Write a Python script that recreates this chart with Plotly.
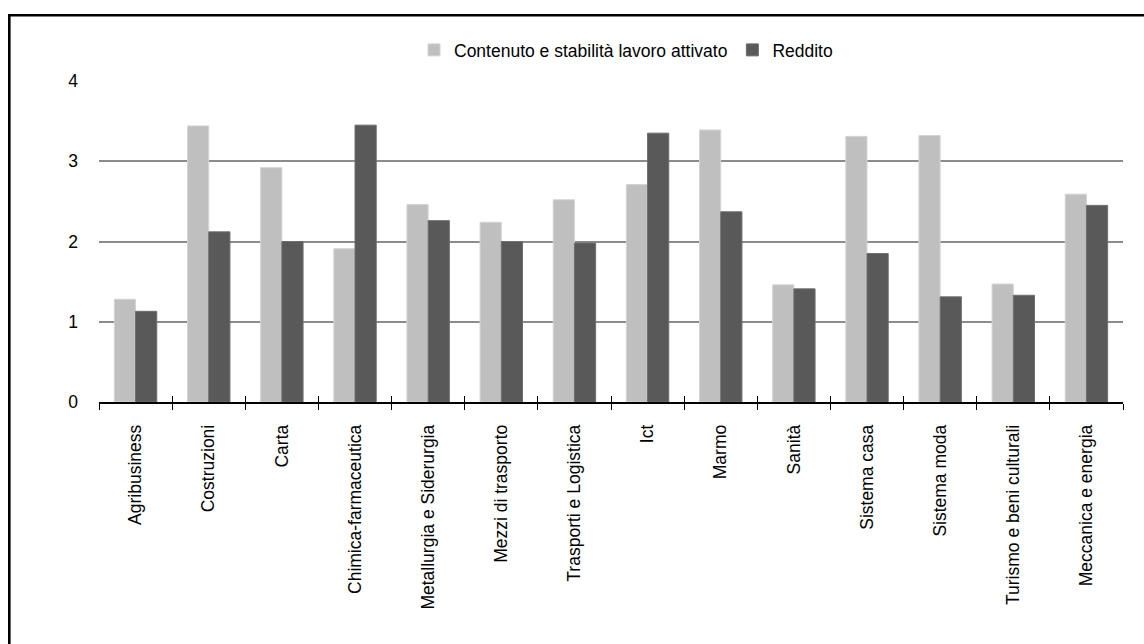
import plotly.graph_objects as go

# Sector categories and the two index series
settori = [
    "Agribusiness", "Costruzioni", "Carta", "Chimica-farmaceutica",
    "Metallurgia e Siderurgia", "Mezzi di trasporto", "Trasporti e Logistica",
    "Ict", "Marmo", "Sanità", "Sistema casa", "Sistema moda",
    "Turismo e beni culturali", "Meccanica e energia",
]
contenuto_stabilita = [1.28, 3.44, 2.92, 1.91, 2.46, 2.24, 2.52,
                       2.71, 3.39, 1.46, 3.31, 3.32, 1.47, 2.59]
reddito = [1.13, 2.12, 2.00, 3.45, 2.26, 2.00, 1.98,
           3.35, 2.37, 1.41, 1.85, 1.31, 1.33, 2.45]
y_ticks = [0, 1, 2, 3, 4]

FONT = "Liberation Sans, Arial, sans-serif"
FS = 17.5
W, H = 1144, 644
M_L, M_R, M_T, M_B = 99, 21, 81, 242
PW, PH = W - M_L - M_R, H - M_T - M_B
x_range = [-0.5, len(settori) - 0.5]

fig = go.Figure()
fig.add_trace(go.Bar(
    x=settori, y=contenuto_stabilita,
    name="Contenuto e stabilità lavoro attivato",
    marker=dict(color="#BFBFBF", line=dict(color="#D4D4D4", width=1)),
))
fig.add_trace(go.Bar(
    x=settori, y=reddito, name="Reddito",
    marker=dict(color="#595959", line=dict(color="#6E6E6E", width=1)),
))
# invisible companion trace so the overlay axis draws its inner ticks
fig.add_trace(go.Scatter(
    x=settori, y=reddito, xaxis="x2", mode="markers",
    marker=dict(opacity=0), showlegend=False, hoverinfo="skip",
))


def px_x(p):
    return (p - M_L) / PW


def px_y(p):
    return (H - M_B - p) / PH


fig.update_layout(
    width=W, height=H,
    margin=dict(l=M_L, r=M_R, t=M_T, b=M_B, autoexpand=False),
    paper_bgcolor="white", plot_bgcolor="white",
    barmode="group", bargap=0.42, bargroupgap=0,
    font=dict(family=FONT, size=FS, color="black"),
    legend=dict(
        orientation="h", x=px_x(626), xanchor="center",
        y=px_y(50), yanchor="middle",
        font=dict(family=FONT, size=FS, color="black"),
        bgcolor="rgba(0,0,0,0)",
        itemwidth=30,
    ),
    xaxis=dict(
        type="category", categoryorder="array", categoryarray=settori,
        range=x_range,
        showline=True, linecolor="black", linewidth=1.5,
        ticks="outside", ticklen=6, tickwidth=1.3, tickcolor="black",
        tickson="boundaries", tickangle=-90,
        ticklabelstandoff=14,
        tickfont=dict(family=FONT, size=FS, color="black"),
        showgrid=False, zeroline=False, automargin=False,
    ),
    xaxis2=dict(
        type="category", categoryorder="array", categoryarray=settori,
        range=x_range,
        overlaying="x", anchor="y", side="bottom",
        showline=False, showticklabels=False,
        ticks="inside", ticklen=6, tickwidth=1.3, tickcolor="black",
        tickson="boundaries", showgrid=False, zeroline=False,
    ),
    yaxis=dict(
        range=[0, 4], tickvals=y_ticks, ticktext=[str(v) for v in y_ticks],
        showgrid=True, gridcolor="#8C8C8C", gridwidth=1.5,
        showline=False, zeroline=False, ticks="",
        ticklabelstandoff=20,
        tickfont=dict(family=FONT, size=FS, color="black"),
        automargin=False,
    ),
    shapes=[dict(
        type="rect", xref="paper", yref="paper",
        x0=px_x(9.3), x1=px_x(W + 20),
        y0=px_y(H + 20), y1=px_y(15.3),
        line=dict(color="black", width=2.6), fillcolor="rgba(0,0,0,0)",
        layer="above",
    )],
)

fig.write_html("out.html")
